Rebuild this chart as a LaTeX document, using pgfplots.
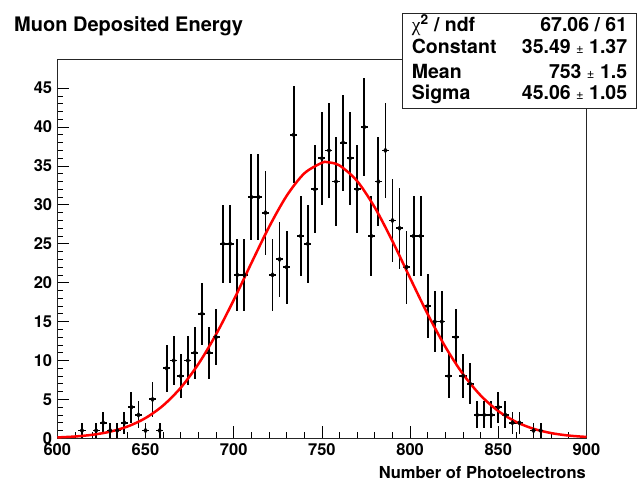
\documentclass[border=0pt]{standalone}
\usepackage{fontspec}
\setmainfont{TeX Gyre Heros}
\newfontfamily\greekfont{Liberation Serif}
\usepackage{pgfplots}
\pgfplotsset{compat=1.18}
\usepackage{pgfplotstable}

\pgfplotstableread{
x y ey
614 1 1
622 1 1
626 2 1.414
630 1 1
634 1 1
638 2 1.414
642 4 2
646 3 1.732
650 1 1
654 5 2.236
658 1 1
662 9 3
666 10 3.162
670 8 2.828
674 10 3.162
678 11 3.317
682 16 4
686 11 3.317
690 13 3.606
694 25 5
698 25 5
702 21 4.583
706 21 4.583
710 31 5.568
714 31 5.568
718 29 5.385
722 21 4.583
726 23 4.796
730 22 4.690
734 39 6.245
738 26 5.099
742 25 5
746 32 5.657
750 36 6
754 37 6.083
758 33 5.745
762 38 6.164
766 36 6
770 32 5.657
774 40 6.325
778 26 5.099
782 33 5.745
786 37 6.083
790 28 5.292
794 27 5.196
798 22 4.690
802 26 5.099
806 26 5.099
810 17 4.123
814 15 3.873
818 15 3.873
822 8 2.828
826 13 3.606
830 8 2.828
834 7 2.646
838 3 1.732
842 3 1.732
846 3 1.732
850 4 2
854 3 1.732
858 2 1.414
862 2 1.414
870 1 1
874 1 1
}\datatable

\pgfplotstableread{
x y
600 0.111
610 0.231
620 0.455
630 0.855
640 1.529
650 2.603
660 4.218
670 6.506
680 9.553
690 13.355
700 17.768
710 22.509
720 27.141
730 31.155
740 34.043
750 35.411
753 35.490
760 35.064
770 33.052
780 29.658
790 25.334
800 20.599
810 15.945
820 11.750
830 8.242
840 5.504
850 3.499
860 2.117
870 1.219
880 0.669
890 0.349
900 0.173
}\fittable

\begin{document}
\begin{tikzpicture}
\useasboundingbox (0,0) rectangle (637bp,483bp);
\begin{axis}[
  at={(57.3bp,44.7bp)}, anchor=south west,
  scale only axis, width=529.2bp, height=378.6bp,
  xmin=600, xmax=900, ymin=0, ymax=48.66,
  xtick={600,650,...,900}, ytick={0,5,...,45},
  minor x tick num=4, minor y tick num=4,
  tick align=inside, tick pos=left,
  major tick length=12bp, minor tick length=6bp,
  axis line style={line width=0.8bp, black!85},
  every tick/.style={line width=0.8bp, black},
  ticklabel style={font=\fontsize{16.5bp}{18bp}\selectfont\bfseries},
  /pgf/number format/assume math mode=true,
  /pgf/number format/1000 sep={},
  xticklabel style={anchor=base, inner sep=0pt, yshift=-17.3bp},
  yticklabel style={anchor=east, inner sep=0pt, xshift=-5bp},
]
\addplot[black, mark=diamond*, mark size=2.6bp, only marks,
  error bars/.cd, x dir=both, x fixed=2, y dir=both, y explicit,
  error bar style={line width=1.8bp, black}, error mark=none]
  table[x=x, y=y, y error=ey] {\datatable};
\addplot[red, line width=2.5bp, smooth, no marks] table[x=x,y=y] {\fittable};
\end{axis}
\node[anchor=base west, inner sep=0pt, font=\fontsize{20bp}{24bp}\selectfont\bfseries] at (14bp,451.3bp) {Muon Deposited Energy};
\node[anchor=base east, inner sep=0pt, font=\fontsize{16.5bp}{18bp}\selectfont\bfseries] at (586bp,4.7bp) {Number of Photoelectrons};
\draw[line width=0.9bp, black!85, fill=white] (402.3bp,374.7bp) rectangle (636.5bp,469.7bp);
\begin{scope}[every node/.style={inner sep=0pt, font=\fontsize{19.5bp}{22bp}\selectfont\bfseries}]
\node[anchor=base west] at (411.7bp,451.3bp) {{\greekfont\mdseries χ}\textsuperscript{2} / ndf};
\node[anchor=base east] at (627.3bp,451.3bp) {67.06 / 61};
\node[anchor=base west] at (411.7bp,429bp) {Constant};
\node[anchor=base east] at (627.3bp,429bp) {35.49 {\fontsize{13bp}{13bp}\selectfont\mdseries ±} 1.37};
\node[anchor=base west] at (411.7bp,404bp) {Mean};
\node[anchor=base east] at (627.3bp,404bp) {753 {\fontsize{13bp}{13bp}\selectfont\mdseries ±} 1.5};
\node[anchor=base west] at (411.7bp,383bp) {Sigma};
\node[anchor=base east] at (627.3bp,383bp) {45.06 {\fontsize{13bp}{13bp}\selectfont\mdseries ±} 1.05};
\end{scope}
\end{tikzpicture}
\end{document}
